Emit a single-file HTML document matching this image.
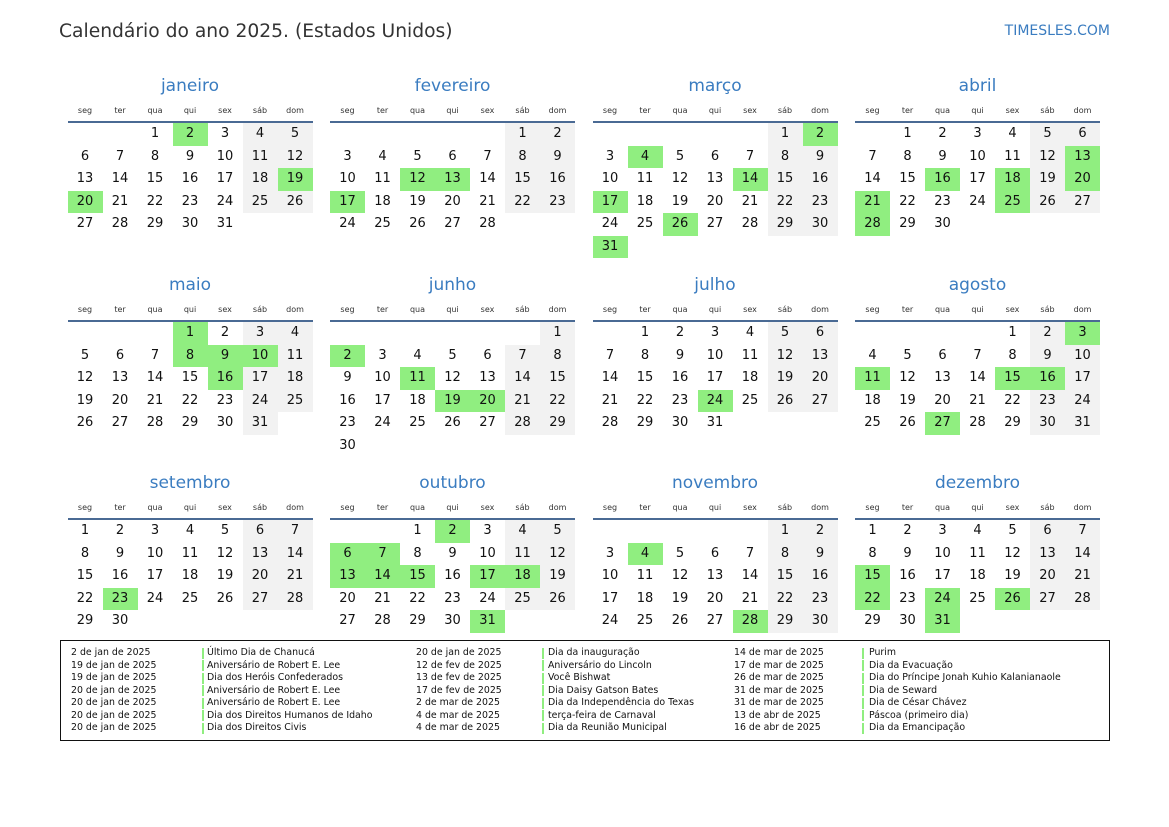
<!DOCTYPE html>
<html><head><meta charset="utf-8">
<style>
body{margin:0;width:1169px;height:827px;background:#fff;position:relative;overflow:hidden;font-family:"DejaVu Sans","Liberation Sans",sans-serif;color:#111}
.a{position:absolute}
.title{left:59px;top:21px;font-size:18.7px;color:#333}
.brand{right:59px;top:23px;font-size:14px;color:#3a7cc0}
.mt{font-size:17px;color:#3a7cc0;text-align:center;width:245px}
.wd{font-size:8px;color:#333;text-align:center;width:35px}
.line{height:2px;background:#4a6a94;width:245px}
.cell{width:35px;height:22.5px;line-height:22.5px;text-align:center;font-size:13px}
.we{background:#f2f2f2}
.hol{background:#90ee80}
.legend{left:60px;top:640px;width:1048px;height:99px;border:1.5px solid #111}
.lt{font-size:9.4px;color:#111;white-space:nowrap;line-height:12px}
.bar{width:2px;height:11px;background:#90ee80}
</style></head><body>
<div class="a title">Calendário do ano 2025. (Estados Unidos)</div>
<div class="a brand">TIMESLES.COM</div>
<div class="a legend"></div>
<div id="cal"></div>
<script>
const monthNames=["janeiro","fevereiro","março","abril","maio","junho","julho","agosto","setembro","outubro","novembro","dezembro"];
const weekdays=["seg","ter","qua","qui","sex","sáb","dom"];
const holidays=[[2,19,20],[12,13,17],[2,4,14,17,26,31],[13,16,18,20,21,25,28],[1,8,9,10,16],[2,11,19,20],[24],[3,11,15,16,27],[23],[2,6,7,13,14,15,17,18,31],[4,28],[15,22,24,26,31]];
const legendDates=["2 de jan de 2025","19 de jan de 2025","19 de jan de 2025","20 de jan de 2025","20 de jan de 2025","20 de jan de 2025","20 de jan de 2025","20 de jan de 2025","12 de fev de 2025","13 de fev de 2025","17 de fev de 2025","2 de mar de 2025","4 de mar de 2025","4 de mar de 2025","14 de mar de 2025","17 de mar de 2025","26 de mar de 2025","31 de mar de 2025","31 de mar de 2025","13 de abr de 2025","16 de abr de 2025"];
const legendNames=["Último Dia de Chanucá","Aniversário de Robert E. Lee","Dia dos Heróis Confederados","Aniversário de Robert E. Lee","Aniversário de Robert E. Lee","Dia dos Direitos Humanos de Idaho","Dia dos Direitos Civis","Dia da inauguração","Aniversário do Lincoln","Você Bishwat","Dia Daisy Gatson Bates","Dia da Independência do Texas","terça-feira de Carnaval","Dia da Reunião Municipal","Purim","Dia da Evacuação","Dia do Príncipe Jonah Kuhio Kalanianaole","Dia de Seward","Dia de César Chávez","Páscoa (primeiro dia)","Dia da Emancipação"];
const cal=document.getElementById('cal');
const lineYs=[121,320,518];
function mk(cls,x,y,txt){const d=document.createElement('div');d.className='a '+cls;d.style.left=x+'px';d.style.top=y+'px';if(txt!==undefined)d.textContent=txt;cal.appendChild(d);return d;}
for(let m=0;m<12;m++){
  const col=m%4,row=Math.floor(m/4);
  const x0=67.5+col*262.5,ly=lineYs[row];
  const t=mk('mt',x0,ly-45,monthNames[m]);
  
  
  for(let w=0;w<7;w++){const e=mk('wd',x0+w*35,ly-15,weekdays[w]);
    
    }
  const l=mk('line',x0,ly);
  
  
  const first=(new Date(2025,m,1).getDay()+6)%7;
  const days=new Date(2025,m+1,0).getDate();
  for(let d=1;d<=days;d++){
    const idx=first+d-1,c=idx%7,r=Math.floor(idx/7);
    let cls='cell';
    if(holidays[m].includes(d))cls+=' hol';else if(c>=5)cls+=' we';
    const e=mk(cls,x0+c*35,ly+2+r*22.5,d);
    
    
  }
}
const lcols=[[71,202,207],[416,542,548],[734,862,869]];
for(let i=0;i<legendDates.length;i++){
  const c=lcols[Math.floor(i/7)],y=647+(i%7)*12.5;
  const a=mk('lt',c[0],y,legendDates[i]);
  
  
  const b=mk('bar',c[1],y+0.5);
  
  
  const n=mk('lt',c[2],y,legendNames[i]);
  
  
}
</script>
</body></html>
